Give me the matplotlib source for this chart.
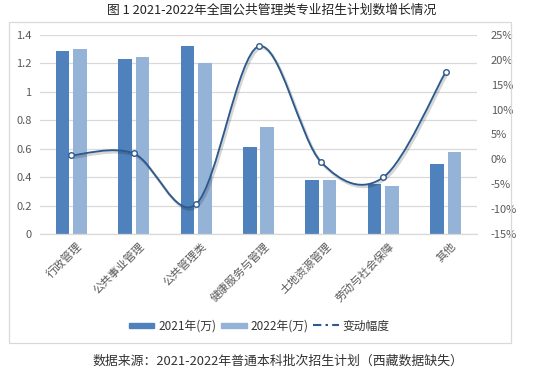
import matplotlib
matplotlib.use("Agg")
import matplotlib.pyplot as plt
import matplotlib.transforms as mtransforms
import numpy as np
from matplotlib.path import Path
from matplotlib.patches import PathPatch, Rectangle
from matplotlib.lines import Line2D
from matplotlib.legend_handler import HandlerPatch

plt.rcParams["font.family"] = ["Noto Sans CJK SC", "DejaVu Sans"]
plt.rcParams["axes.unicode_minus"] = False

# 数据
categories = ["行政管理", "公共事业管理", "公共管理类", "健康服务与管理",
              "土地资源管理", "劳动与社会保障", "其他"]
plan_2021 = [1.29, 1.23, 1.32, 0.61, 0.38, 0.35, 0.49]
plan_2022 = [1.30, 1.245, 1.20, 0.755, 0.38, 0.335, 0.577]
change_pct = [0.8, 1.2, -9.0, 22.7, -0.5, -3.6, 17.6]
left_ticks = [0, 0.2, 0.4, 0.6, 0.8, 1.0, 1.2, 1.4]
left_tick_labels = ["0", "0.2", "0.4", "0.6", "0.8", "1", "1.2", "1.4"]
right_ticks = [-15, -10, -5, 0, 5, 10, 15, 20, 25]

C21 = "#4F81BD"
C22 = "#95B3D7"
CLINE = "#2C5A8E"
GRID = "#D9D9D9"
TXT = "#595959"

W, H = 533, 369
fig = plt.figure(figsize=(W / 100, H / 100), dpi=100)
ax = fig.add_axes([40 / W, 1 - 234 / H, 437 / W, 199 / H])

x = np.arange(len(categories))
bw = 0.216
off = 0.14
ax.bar(x - off, plan_2021, bw, color=C21, zorder=2)
ax.bar(x + off, plan_2022, bw, color=C22, zorder=2)

ax.set_xlim(-0.5, len(categories) - 0.5)
ax.set_ylim(0, 1.4)
ax.set_yticks(left_ticks)
ax.set_yticklabels(left_tick_labels)
ax.yaxis.grid(True, color=GRID, linewidth=0.9, zorder=0)
ax.set_axisbelow(True)
for s in ["top", "right", "left"]:
    ax.spines[s].set_visible(False)
ax.spines["bottom"].set_color(GRID)
ax.spines["bottom"].set_linewidth(0.9)
ax.tick_params(axis="y", length=0, pad=6, labelsize=8, labelcolor=TXT)
ax.tick_params(axis="x", length=0, pad=2, labelsize=8, labelcolor=TXT)
ax.set_xticks(x)
ax.set_xticklabels(categories, rotation=45, ha="right", rotation_mode="anchor")
shift = mtransforms.ScaledTranslation(5 / 100, -4 / 100, fig.dpi_scale_trans)
for lab in ax.get_xticklabels():
    lab.set_transform(lab.get_transform() + shift)

# 右轴：变动幅度
ax2 = ax.twinx()
ax2.set_ylim(-15, 25)
ax2.set_yticks(right_ticks)
ax2.set_yticklabels([f"{v}%" for v in right_ticks])
ax2.tick_params(axis="y", length=0, pad=10, labelsize=8, labelcolor=TXT)
for s in ax2.spines.values():
    s.set_visible(False)

# 平滑曲线（贝塞尔）
pts = np.column_stack([x, change_pct]).astype(float)
n = len(pts)
verts = [pts[0]]
codes = [Path.MOVETO]
for i in range(n - 1):
    p0 = pts[i - 1] if i > 0 else pts[i]
    p1 = pts[i]
    p2 = pts[i + 1]
    p3 = pts[i + 2] if i + 2 < n else pts[i + 1]
    verts += [p1 + (p2 - p0) / 6, p2 - (p3 - p1) / 6, p2]
    codes += [Path.CURVE4] * 3
curve_path = Path(verts, codes)

# 阴影
shadow_tf = ax2.transData + mtransforms.ScaledTranslation(1.5 / 100, -2 / 100, fig.dpi_scale_trans)
ax2.add_patch(PathPatch(curve_path, facecolor="none", edgecolor="#000000", alpha=0.16,
                        linewidth=2.0, transform=shadow_tf, zorder=3))
ax2.add_patch(PathPatch(curve_path, facecolor="none", edgecolor=CLINE,
                        linewidth=1.35, zorder=3))
ax2.plot(x, change_pct, linestyle="none", marker="o", markersize=4,
         markerfacecolor="white", markeredgecolor=CLINE, markeredgewidth=1.0, zorder=4)

# 图例
h1 = Rectangle((0, 0), 1, 1, color=C21)
h2 = Rectangle((0, 0), 1, 1, color=C22)
h3 = Line2D([], [], color=CLINE, linestyle=(0, (4, 2, 1.2, 2)), linewidth=1.5)


def thin_rect(legend, orig_handle, xdescent, ydescent, width, height, fontsize):
    return Rectangle((-xdescent, -ydescent + height * 0.2), width, height * 0.6)


fig.legend([h1, h2, h3], ["2021年(万)", "2022年(万)", "变动幅度"],
           loc="center", bbox_to_anchor=(259 / W, 1 - 326 / H), ncol=3, frameon=False,
           fontsize=8.5, handlelength=2.2, handletextpad=0.3, columnspacing=0.4,
           labelcolor="#333333",
           handler_map={Rectangle: HandlerPatch(patch_func=thin_rect)})

# 外框
fig.patches.append(Rectangle((9 / W, 1 - 343 / H), 502 / W, 321 / H, transform=fig.transFigure,
                             facecolor="none", edgecolor=GRID, linewidth=0.9))

fig.text(272 / W, 1 - 10 / H, "图 1 2021-2022年全国公共管理类专业招生计划数增长情况",
         ha="center", va="center", fontsize=9.2, color="#222222")
fig.text(278 / W, 1 - 361 / H, "数据来源：2021-2022年普通本科批次招生计划（西藏数据缺失）",
         ha="center", va="center", fontsize=9.3, color="#333333")

fig.savefig("out.png", dpi=100)
